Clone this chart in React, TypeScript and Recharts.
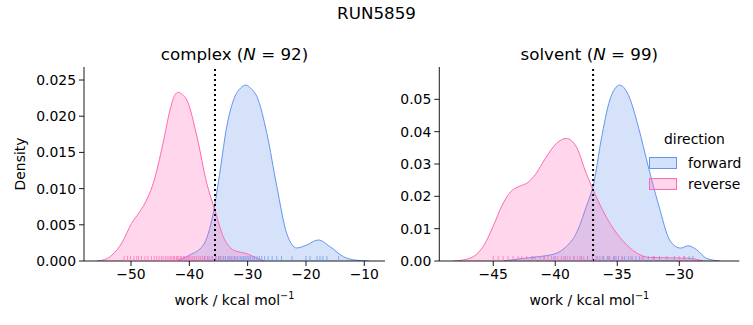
import React from 'react';
import { Area, ComposedChart, ReferenceLine, Scatter, XAxis, YAxis } from 'recharts';

const FORWARD = '#6495ED';
const REVERSE = '#FF69B4';
const FONT = '"DejaVu Sans", sans-serif';

// complex panel, kde curves: [work, density]
const complexReverseKde = [
  [-55.9, 0], [-54.5, 0.0002], [-53.3, 0.0008], [-51.5, 0.0026], [-49.9, 0.0052], [-48.6, 0.0067],
  [-47.6, 0.008], [-46.2, 0.0107], [-44.5, 0.0163], [-43.3, 0.0209], [-42.5, 0.0229], [-41.9, 0.0233],
  [-41.2, 0.023], [-40.4, 0.0222], [-38.7, 0.0172], [-37.0, 0.0107], [-35.6, 0.007], [-34.2, 0.0034],
  [-32.4, 0.0015], [-30.1, 0.001], [-28.4, 0.0004], [-27.2, 0],
];
const complexForwardKde = [
  [-42.2, 0], [-40.0, 0.0008], [-37.6, 0.0022], [-35.9, 0.0066], [-34.7, 0.0126], [-33.6, 0.0185],
  [-32.2, 0.0227], [-31.2, 0.0239], [-30.3, 0.0243], [-29.4, 0.0238], [-28.4, 0.0227], [-26.7, 0.0176],
  [-25.0, 0.0103], [-23.3, 0.0038], [-21.6, 0.0018], [-19.9, 0.0022], [-17.9, 0.0029], [-15.9, 0.002],
  [-13.6, 0.0006], [-11.3, 0.0001], [-9.2, 0],
];
const complexReverseRug = [
  -51.2, -50.6, -50.1, -49.5, -49.0, -48.7, -48.2, -47.6, -47.1, -46.5, -46.0, -45.6, -45.2, -44.8, -44.5,
  -44.1, -43.8, -43.5, -43.2, -43.0, -42.7, -42.5, -42.2, -42.0, -41.8, -41.5, -41.3, -41.0, -40.8, -40.5,
  -40.2, -40.0, -39.7, -39.4, -39.1, -38.8, -38.4, -38.1, -37.7, -37.3, -36.9, -36.5, -36.0, -35.4, -34.8,
  -34.1, -33.2, -32.3,
];
const complexForwardRug = [
  -37.4, -36.8, -36.1, -35.5, -35.0, -34.6, -34.2, -33.8, -33.4, -33.0, -32.7, -32.3, -32.0, -31.7, -31.3,
  -31.0, -30.7, -30.4, -30.1, -29.8, -29.5, -29.1, -28.8, -28.4, -28.0, -27.6, -27.1, -26.5, -25.8, -25.0,
  -24.2, -22.4, -20.0, -19.3, -18.1, -17.6, -17.1, -16.4, -14.4,
];

// solvent panel
const solventReverseKde = [
  [-48.2, 0], [-47.2, 0.0005], [-46.4, 0.0019], [-45.7, 0.0052], [-45.0, 0.0108], [-44.3, 0.0171],
  [-43.6, 0.0214], [-42.9, 0.0231], [-42.2, 0.0243], [-41.6, 0.0268], [-40.8, 0.0317], [-39.9, 0.0364],
  [-39.1, 0.0379], [-38.3, 0.0353], [-37.5, 0.0271], [-36.7, 0.0199], [-35.6, 0.0117], [-34.5, 0.006],
  [-33.4, 0.0024], [-32.4, 0.0011], [-31.0, 0.001], [-29.1, 0.0008], [-28.1, 0],
];
const solventForwardKde = [
  [-44.2, 0], [-42.6, 0.0008], [-41.0, 0.0015], [-39.9, 0.0024], [-39.1, 0.0045], [-38.3, 0.0086],
  [-37.5, 0.0168], [-36.9, 0.024], [-36.3, 0.0374], [-35.6, 0.0498], [-34.8, 0.0544], [-34.1, 0.0513],
  [-33.3, 0.0415], [-32.5, 0.0292], [-31.7, 0.0178], [-30.7, 0.006], [-29.9, 0.004], [-29.3, 0.0047],
  [-28.6, 0.0035], [-27.8, 0.0008], [-26.7, 0],
];
const solventReverseRug = [
  -45.0, -44.6, -44.2, -43.8, -43.4, -43.0, -42.7, -42.3, -41.9, -41.6, -41.2, -40.9, -40.6, -40.3, -40.0,
  -39.8, -39.5, -39.3, -39.0, -38.8, -38.5, -38.2, -38.0, -37.7, -37.4, -37.0, -36.6, -36.2, -35.7, -35.2,
  -34.6, -33.9, -33.0, -32.0, -30.0, -29.6,
];
const solventForwardRug = [
  -41.8, -40.9, -40.1, -39.2, -38.5, -37.9, -37.4, -37.0, -36.7, -36.4, -36.1, -35.8, -35.6, -35.3, -35.1,
  -34.9, -34.6, -34.4, -34.1, -33.8, -33.5, -33.2, -32.9, -32.5, -32.1, -31.6, -31.0, -30.4, -29.6, -29.2,
  -28.9,
];

const complexTicksX = [-50, -40, -30, -20, -10];
const complexTicksY = [0, 0.005, 0.01, 0.015, 0.02, 0.025];
const solventTicksX = [-45, -40, -35, -30];
const solventTicksY = [0, 0.01, 0.02, 0.03, 0.04, 0.05];

const toPts = (arr: number[][]) => arr.map(([x, y]) => ({ x, y }));
const toRug = (arr: number[]) => arr.map((x) => ({ x, y: 0 }));
const minus = (s: string) => s.replace('-', '\u2212');

const rugShape = (color: string) => (p: any) => (
  <line x1={p.cx} x2={p.cx} y1={p.cy} y2={p.cy - 5} stroke={color} strokeOpacity={0.7} strokeWidth={1} />
);

const tickStyle = { fill: '#000', fontSize: 13.9, fontFamily: FONT };

type PanelProps = {
  left: number;
  width: number;
  yAxisWidth: number;
  marginRight: number;
  xDomain: number[];
  yDomain: number[];
  xTicks: number[];
  yTicks: number[];
  yDigits: number;
  cutoff: number;
  fwd: number[][];
  rev: number[][];
  fwdRug: number[];
  revRug: number[];
};

const Panel = (p: PanelProps) => (
  <div style={{ position: 'absolute', left: p.left, top: 0 }}>
    <ComposedChart
      width={p.width}
      height={325}
      margin={{ top: 67, right: p.marginRight, left: 0, bottom: 24 }}
    >
      <XAxis
        type='number'
        dataKey='x'
        domain={p.xDomain}
        ticks={p.xTicks}
        allowDataOverflow
        height={40}
        tick={tickStyle}
        tickSize={5}
        tickMargin={3}
        tickFormatter={(v: number) => minus(String(v))}
        axisLine={{ stroke: '#000', strokeWidth: 0.9 }}
        tickLine={{ stroke: '#000', strokeWidth: 0.9 }}
      />
      <YAxis
        type='number'
        dataKey='y'
        domain={p.yDomain}
        ticks={p.yTicks}
        allowDataOverflow
        width={p.yAxisWidth}
        tick={tickStyle}
        tickSize={5}
        tickMargin={3}
        tickFormatter={(v: number) => v.toFixed(p.yDigits)}
        axisLine={{ stroke: '#000', strokeWidth: 0.9 }}
        tickLine={{ stroke: '#000', strokeWidth: 0.9 }}
      />
      <Area
        data={toPts(p.fwd)}
        dataKey='y'
        type='monotone'
        stroke={FORWARD}
        strokeWidth={1}
        fill={FORWARD}
        fillOpacity={0.27}
        isAnimationActive={false}
        dot={false}
        activeDot={false}
      />
      <Area
        data={toPts(p.rev)}
        dataKey='y'
        type='monotone'
        stroke={REVERSE}
        strokeWidth={1}
        fill={REVERSE}
        fillOpacity={0.27}
        isAnimationActive={false}
        dot={false}
        activeDot={false}
      />
      <Scatter data={toRug(p.fwdRug)} dataKey='y' shape={rugShape(FORWARD)} isAnimationActive={false} />
      <Scatter data={toRug(p.revRug)} dataKey='y' shape={rugShape(REVERSE)} isAnimationActive={false} />
      <ReferenceLine x={p.cutoff} stroke='#000' strokeWidth={2} strokeDasharray='2 3' />
    </ComposedChart>
  </div>
);

const Text = ({ x, y, size, children, rotate }: any) => (
  <div
    style={{
      position: 'absolute',
      left: x,
      top: y,
      transform: `translate(-50%, -50%)${rotate ? ' rotate(-90deg)' : ''}`,
      fontFamily: FONT,
      fontSize: size,
      color: '#000',
      whiteSpace: 'nowrap',
      lineHeight: 1,
    }}
  >
    {children}
  </div>
);

const Unit = () => (
  <>
    work / kcal mol<sup style={{ fontSize: 9.7, verticalAlign: 6 }}>−1</sup>
  </>
);

const Swatch = ({ color }: { color: string }) => (
  <div
    style={{
      width: 26,
      height: 10,
      border: `1px solid ${color}`,
      background: color === FORWARD ? 'rgba(100,149,237,0.28)' : 'rgba(255,105,180,0.27)',
    }}
  />
);

export default function App() {
  return (
    <div style={{ position: 'absolute', left: 0, top: 0, width: 753, height: 325, background: '#fff' }}>
      <Panel
        left={0}
        width={390}
        yAxisWidth={84}
        marginRight={5}
        xDomain={[-58.06, -6.45]}
        yDomain={[0, 0.0268]}
        xTicks={complexTicksX}
        yTicks={complexTicksY}
        yDigits={3}
        cutoff={-35.6}
        fwd={complexForwardKde}
        rev={complexReverseKde}
        fwdRug={complexForwardRug}
        revRug={complexReverseRug}
      />
      <Panel
        left={390}
        width={363}
        yAxisWidth={49.3}
        marginRight={13.7}
        xDomain={[-49.35, -25.16]}
        yDomain={[0, 0.06]}
        xTicks={solventTicksX}
        yTicks={solventTicksY}
        yDigits={2}
        cutoff={-36.95}
        fwd={solventForwardKde}
        rev={solventReverseKde}
        fwdRug={solventForwardRug}
        revRug={solventReverseRug}
      />
      <Text x={376.5} y={13} size={16.7}>RUN5859</Text>
      <Text x={234.5} y={54} size={16.7}>
        complex (<i>N</i> = 92)
      </Text>
      <Text x={589.3} y={54} size={16.7}>
        solvent (<i>N</i> = 99)
      </Text>
      <Text x={21} y={164} size={13.9} rotate>Density</Text>
      <Text x={234.5} y={299} size={13.9}><Unit /></Text>
      <Text x={589.3} y={299} size={13.9}><Unit /></Text>
      <div style={{ position: 'absolute', left: 649, top: 133, fontFamily: FONT, fontSize: 13.9, color: '#000' }}>
        <div style={{ marginLeft: 15, marginBottom: 6, lineHeight: 1 }}>direction</div>
        <div style={{ display: 'flex', alignItems: 'center', height: 21 }}>
          <Swatch color={FORWARD} />
          <span style={{ marginLeft: 11 }}>forward</span>
        </div>
        <div style={{ display: 'flex', alignItems: 'center', height: 21 }}>
          <Swatch color={REVERSE} />
          <span style={{ marginLeft: 11 }}>reverse</span>
        </div>
      </div>
    </div>
  );
}
